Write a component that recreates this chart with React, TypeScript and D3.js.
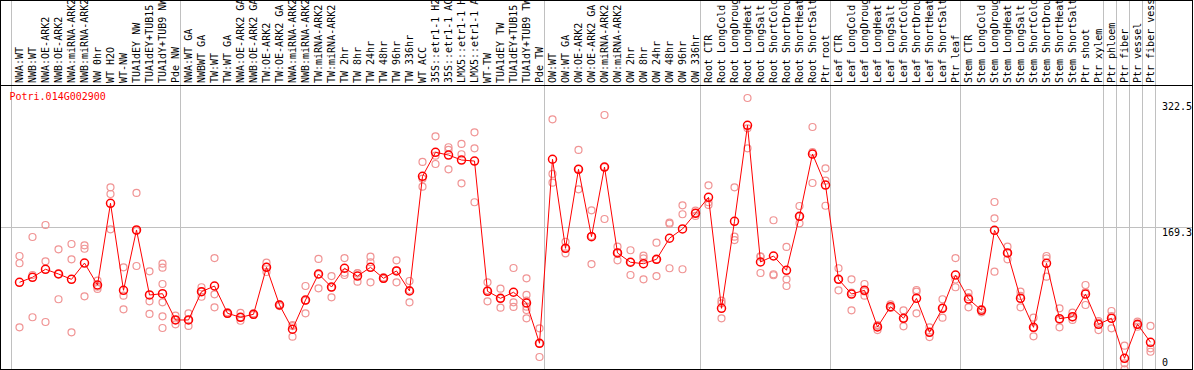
import React, { useEffect, useRef } from "react";
import * as d3 from "d3";

const geneName = "Potri.014G002900";

const sampleLabels = [
  "NWA:WT", "NWB:WT", "NWA:OE-ARK2", "NWB:OE-ARK2", "NWA:miRNA-ARK2", "NWB:miRNA-ARK2",
  "NW 0hr", "WT H2O", "WT-NW", "TUA1dEY NW", "TUA1dEY+TUB15 NW", "TUA1dY+TUB9 NW", "Pde NW",
  "NWA:WT GA", "NWBWT GA", "TW:WT", "TW:WT GA", "NWA:OE-ARK2 GA", "NWB:OE-ARK2 GA",
  "TW:OE-ARK2", "TW:OE-ARK2 GA", "NWA:miRNA-ARK2 GA", "NWB:miRNA-ARK2 GA", "TW:miRNA-ARK2",
  "TW:miRNA-ARK2 GA", "TW 2hr", "TW 8hr", "TW 24hr", "TW 48hr", "TW 96hr", "TW 336hr",
  "WT ACC", "35S::etr1-1 H2O", "35S::etr1-1 ACC", "LMX5::etr1-1 H2O", "LMX5::etr1-1 ACC",
  "WT-TW", "TUA1dEY TW", "TUA1dEY+TUB15 TW", "TUA1dY+TUB9 TW", "Pde TW",
  "OW:WT", "OW:WT GA", "OW:OE-ARK2", "OW:OE-ARK2 GA", "OW:miRNA-ARK2", "OW:miRNA-ARK2 GA",
  "OW 2hr", "OW 8hr", "OW 24hr", "OW 48hr", "OW 96hr", "OW 336hr",
  "Root CTR", "Root LongCold", "Root LongDrought", "Root LongHeat", "Root LongSalt",
  "Root ShortCold", "Root ShortDrought", "Root ShortHeat", "Root ShortSalt", "Ptr root",
  "Leaf CTR", "Leaf LongCold", "Leaf LongDrought", "Leaf LongHeat", "Leaf LongSalt",
  "Leaf ShortCold", "Leaf ShortDrought", "Leaf ShortHeat", "Leaf ShortSalt", "Ptr leaf",
  "Stem CTR", "Stem LongCold", "Stem LongDrought", "Stem LongHeat", "Stem LongSalt",
  "Stem ShortCold", "Stem ShortDrought", "Stem ShortHeat", "Stem ShortSalt", "Ptr shoot",
  "Ptr xylem", "Ptr phloem", "Ptr fiber", "Ptr vessel", "Ptr fiber vessel",
];

// sample index where each experiment block starts (last one = end)
const blockEdges = [0, 13, 41, 53, 63, 73, 84, 85, 86, 87, 88];

const meanValues = [
  104.4, 110.3, 119.8, 114.2, 107.9, 127.2, 101.2, 197.9, 94.9, 166.3, 89.4, 90.9, 59.8,
  59.8, 93.3, 100.0, 67.7, 63.0, 66.5, 122.1, 77.5, 48.8, 83.4, 114.2, 98.8, 121.0, 111.8,
  122.1, 109.1, 117.8, 94.1, 229.8, 258.2, 255.0, 249.1, 247.9, 93.7, 85.4, 92.6, 79.9, 32.2,
  250.0, 144.6, 238.1, 158.4, 240.8, 139.1, 128.1, 126.4, 131.6, 156.5, 167.5, 186.0,
  205.0, 73.6, 176.6, 290.2, 128.4, 135.5, 118.6, 182.5, 256.2, 219.5,
  107.9, 90.5, 94.9, 51.5, 75.5, 61.8, 85.4, 45.2, 73.6, 113.0,
  84.6, 71.2, 165.9, 139.1, 85.4, 51.1, 126.9, 61.3, 63.7, 90.5, 54.7,
  61.8, 14.4, 54.7, 33.4,
];

const replicateValues = [
  [135.5, 126.9, 51.1], [158.0, 113.0, 63.0], [172.2, 129.2, 57.4], [143.4, 114.2, 84.3],
  [149.7, 131.6, 45.2], [148.2, 144.1, 87.8], [106.3, 99.2, 96.5], [216.8, 208.9, 167.1],
  [122.1, 88.5, 72.4], [210.1, 165.1, 123.7], [117.4, 81.9, 66.9],
  [126.4, 121.7, 102.4, 80.7, 64.1, 50.3], [64.9, 59.8, 54.7],
  [67.7, 59.8, 52.7], [98.5, 93.3, 87.3], [133.1, 90.2, 74.8], [68.9, 66.9, 67.7],
  [68.1, 58.9, 63.0], [66.5, 67.5, 65.7], [127.6, 122.8, 116.6], [78.3, 76.3, 77.5],
  [53.8, 40.0, 52.6], [100.0, 67.7, 82.8], [132.0, 97.3, 113.6], [111.8, 86.6, 98.2],
  [133.1, 115.7, 113.0], [115.0, 105.1, 115.4], [134.7, 128.1, 104.4], [109.1, 110.1, 108.3],
  [130.4, 104.4, 118.4], [105.9, 80.7, 95.3], [246.8, 227.0, 217.5], [277.2, 254.2, 244.4],
  [264.2, 261.0, 238.1], [268.1, 255.9, 221.5], [281.9, 263.0, 199.1], [104.4, 81.9, 94.9],
  [96.8, 74.3, 85.2], [121.3, 80.7, 75.2], [109.1, 89.4, 82.6, 75.5, 71.6, 61.8],
  [49.9, 16.0, 32.0],
  [297.3, 232.6, 222.3], [152.4, 138.7, 144.4], [261.0, 214.4, 238.5], [189.6, 126.0, 159.2],
  [302.4, 179.3, 240.8], [146.5, 130.4, 139.7], [142.3, 113.0, 128.4], [135.9, 132.8, 107.9],
  [151.3, 111.8, 131.4], [174.9, 173.7, 121.0], [195.5, 184.9, 119.8], [189.1, 182.9, 186.4],
  [219.2, 199.1, 195.9], [82.6, 79.5, 61.8], [216.8, 158.4, 154.4], [322.5, 286.6, 263.0],
  [134.7, 115.4, 135.1], [177.8, 113.9, 112.7], [146.2, 107.9, 100.0], [194.7, 174.2, 182.3],
  [288.2, 258.6, 221.9], [239.3, 224.6, 195.0],
  [121.0, 94.9, 107.7], [107.9, 71.2, 92.3], [102.4, 88.5, 93.5], [47.9, 53.8, 52.7],
  [78.3, 74.0, 74.6], [71.2, 52.3, 61.8], [95.3, 93.3, 67.7], [51.1, 39.6, 45.0],
  [84.3, 62.5, 74.0], [133.1, 98.5, 107.7],
  [91.7, 74.8, 87.0], [72.8, 68.9, 72.2], [199.4, 180.1, 116.9], [146.5, 131.6, 139.1],
  [93.3, 74.8, 88.2], [62.5, 40.5, 50.3], [135.5, 111.0, 132.6], [73.6, 51.1, 59.8],
  [68.4, 59.8, 62.7], [101.2, 77.5, 92.9], [58.6, 47.9, 56.8],
  [70.4, 49.9, 64.5], [29.4, 8.5, 1.4], [57.8, 51.8, 54.4], [52.7, 26.3, 22.2],
];

const yTicks = [0, 169.3, 322.5];

export default function App() {
  const svgRef = useRef<SVGSVGElement>(null);

  useEffect(() => {
    const width = 1194;
    const height = 370;
    const font = "'DejaVu Sans Mono', monospace";
    const n = sampleLabels.length;

    const svg = d3.select(svgRef.current)
      .attr("width", width)
      .attr("height", height);
    svg.selectAll("*").remove();

    // --- Scales ---
    const x = d3.scaleBand<number>()
      .domain(d3.range(n))
      .range([11.5, 11.5 + 13 * n]);
    const cx = (i: number) => (x(i) as number) + 8;
    const edgeX = (k: number) => (k < n ? (x(k) as number) : x.range()[1]);

    const yMax = d3.max(replicateValues.flat()) as number;
    const y = d3.scaleLinear().domain([0, yMax]).range([370.5, 98]);

    svg.append("rect")
      .attr("width", width).attr("height", height).attr("fill", "white");

    // --- Grid ---
    svg.append("g")
      .selectAll("line")
      .data(blockEdges)
      .join("line")
      .attr("x1", d => edgeX(d)).attr("x2", d => edgeX(d))
      .attr("y1", 0).attr("y2", height)
      .attr("stroke", "#c0c0c0")
      .attr("stroke-width", 1);

    svg.append("line")
      .attr("x1", 1).attr("x2", 1192)
      .attr("y1", Math.round(y(169.3)) + 0.5).attr("y2", Math.round(y(169.3)) + 0.5)
      .attr("stroke", "#c0c0c0");

    // --- Frame ---
    svg.append("rect")
      .attr("x", 0.5).attr("y", 0.5)
      .attr("width", 1192).attr("height", 369)
      .attr("fill", "none").attr("stroke", "black");
    svg.append("line")
      .attr("x1", 0).attr("x2", 1193)
      .attr("y1", 85.5).attr("y2", 85.5)
      .attr("stroke", "black");

    // --- Sample labels (vertical) ---
    svg.append("g")
      .selectAll("text")
      .data(sampleLabels)
      .join("text")
      .attr("transform", (d, i) => `translate(${cx(i) + 3.5},83) rotate(-90)`)
      .attr("font-family", font)
      .attr("font-size", 10)
      .attr("fill", "black")
      .text(d => d);

    // --- Y tick labels (right side) ---
    svg.append("g")
      .selectAll("text")
      .data(yTicks)
      .join("text")
      .attr("x", 1162)
      .attr("y", d => Math.max(110.3, Math.min(365.6, y(d) + 8.6)))
      .attr("font-family", font)
      .attr("font-size", 10)
      .attr("fill", "black")
      .text(d => String(d));

    svg.append("text")
      .attr("x", 9.5).attr("y", 100)
      .attr("font-family", font)
      .attr("font-size", 10)
      .attr("fill", "#ff0000")
      .text(geneName);

    // --- Plot marks ---
    svg.append("clipPath").attr("id", "plot-clip")
      .append("rect")
      .attr("x", 1).attr("y", 86).attr("width", 1191).attr("height", 283);
    const g = svg.append("g").attr("clip-path", "url(#plot-clip)");

    const reps = replicateValues.flatMap((vals, i) => vals.map(v => ({ i, v })));
    g.append("g")
      .selectAll("circle")
      .data(reps)
      .join("circle")
      .attr("cx", d => cx(d.i))
      .attr("cy", d => y(d.v))
      .attr("r", 3.5)
      .attr("fill", "none")
      .attr("stroke", "#f09494")
      .attr("stroke-width", 1.2);

    const line = d3.line<number>()
      .x((d, i) => cx(i))
      .y(d => y(d));
    g.append("path")
      .datum(meanValues)
      .attr("d", line)
      .attr("fill", "none")
      .attr("stroke", "#ff0000")
      .attr("stroke-width", 1);

    g.append("g")
      .selectAll("circle")
      .data(meanValues)
      .join("circle")
      .attr("cx", (d, i) => cx(i))
      .attr("cy", d => y(d))
      .attr("r", 4)
      .attr("fill", "none")
      .attr("stroke", "#ff0000")
      .attr("stroke-width", 1.5);
  }, []);

  return (
    <>
      <style>{`body{margin:0}`}</style>
      <svg ref={svgRef} style={{ display: "block" }}></svg>
    </>
  );
}
